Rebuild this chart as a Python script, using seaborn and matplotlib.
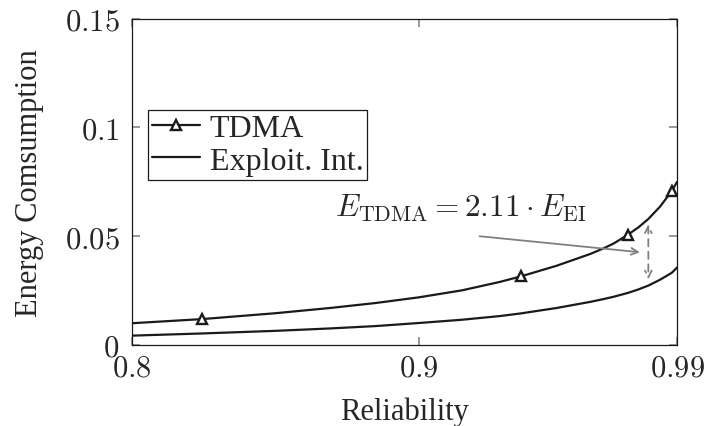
import numpy as np
import pandas as pd
import seaborn as sns
import matplotlib.pyplot as plt

# valores
reliab = [0.80, 0.8244, 0.85, 0.869, 0.885, 0.90, 0.915, 0.9283, 0.9355, 0.948,
          0.9597, 0.9644, 0.968, 0.9728, 0.9765, 0.980, 0.9841, 0.9882, 0.99]
e_tdma = [0.0100, 0.0119, 0.0146, 0.0170, 0.0193, 0.0219, 0.0251, 0.0290, 0.0315, 0.0364,
          0.0418, 0.0444, 0.0467, 0.0506, 0.0540, 0.0579, 0.0636, 0.0708, 0.0749]
e_ei = [0.0043, 0.0053, 0.0065, 0.0076, 0.0087, 0.0101, 0.0116, 0.0133, 0.0145, 0.0170,
        0.0198, 0.0211, 0.0222, 0.0239, 0.0255, 0.0273, 0.0300, 0.0332, 0.0356]
marcas = [1, 8, 13, 17]
i_flecha = 15

xticks = [0.8, 0.9, 0.99]
xticklabels = ['$0.8$', '$0.9$', '$0.99$']
yticks = [0, 0.05, 0.1, 0.15]
yticklabels = ['$0$', '$0.05$', '$0.1$', '$0.15$']

df = pd.DataFrame({'r': reliab, 'tdma': e_tdma, 'ei': e_ei})

sns.set_theme(style='white')
plt.rcParams['font.family'] = ['Liberation Serif', 'DejaVu Serif']
plt.rcParams['mathtext.fontset'] = 'cm'

fig = plt.figure(figsize=(7.07, 4.27), dpi=100)
ax = fig.add_axes([0.1867, 0.1897, 0.7709, 0.7646])

sns.lineplot(data=df, x='r', y='tdma', ax=ax, color='k', lw=1.6, marker='^',
             markevery=marcas, markersize=6.5, markerfacecolor='white',
             markeredgecolor='k', markeredgewidth=1.7, label='TDMA')
sns.lineplot(data=df, x='r', y='ei', ax=ax, color='k', lw=1.6, label='Exploit. Int.')

ax.set_xlim(0.8, 0.99)
ax.set_ylim(0, 0.15)
ax.set_xticks(xticks)
ax.set_xticklabels(xticklabels)
ax.set_yticks(yticks)
ax.set_yticklabels(yticklabels)
ax.tick_params(direction='in', length=6, width=1.2, color='#888888', labelsize=22,
               top=True, right=True, bottom=True, left=True)
ax.tick_params(axis='y', pad=9)
ax.tick_params(axis='x', pad=6)
for s in ax.spines.values():
    s.set_color('k')
    s.set_linewidth(0.9)

ax.set_xlabel('Reliability', fontsize=22, labelpad=10)
ax.set_ylabel('Energy Comsumption', fontsize=22, labelpad=15)

leg = ax.legend(loc='upper left', bbox_to_anchor=(0.03, 0.72), fontsize=23,
                frameon=True, fancybox=False, edgecolor='k', framealpha=1,
                borderpad=0.12, labelspacing=0.1, handlelength=1.5,
                handletextpad=0.3, borderaxespad=0)
leg.get_frame().set_linewidth(0.9)

# anotacion
ax.text(0.8708, 0.0592, r'$E_{\mathrm{TDMA}} = 2.11 \cdot E_{\mathrm{EI}}$',
        fontsize=22.5, va='baseline', ha='left')
ax.annotate('', xy=(0.978, 0.0425), xytext=(0.9202, 0.0501),
            arrowprops=dict(arrowstyle='->', color='gray', lw=1.3))
ax.annotate('', xy=(reliab[i_flecha], e_ei[i_flecha] + 0.0016),
            xytext=(reliab[i_flecha], e_tdma[i_flecha] - 0.0012),
            arrowprops=dict(arrowstyle='<->', color='gray', lw=1.3, linestyle=(0, (4, 3))))

plt.savefig('out.png', dpi=100)
